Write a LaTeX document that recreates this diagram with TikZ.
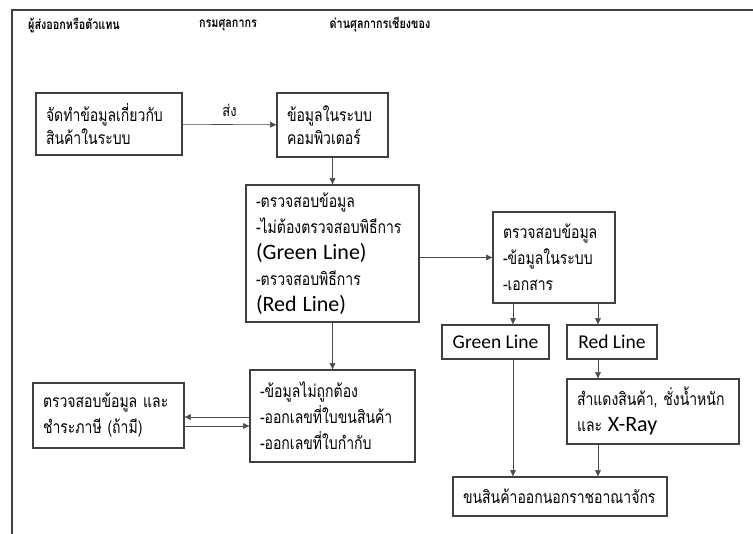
\documentclass[tikz,border=0pt]{standalone}
\usepackage{fontspec}
\setmainfont{Carlito}
\newfontfamily\thaifont[Script=Thai,FakeStretch=0.8]{Loma}
\usetikzlibrary{arrows.meta,positioning,calc}
\exhyphenpenalty=10000
\hbadness=10000
\hfuzz=40pt
\newcommand{\eng}[1]{{\normalfont\fontsize{22}{22}\selectfont #1}}
\tikzset{
  stepbox/.style={rectangle, draw=black!75, line width=1.3pt, align=left,
    inner xsep=10pt, inner ysep=0pt, font=\thaifont\fontsize{17.5}{26}\selectfont},
  tagbox/.style={stepbox, align=center, inner xsep=0pt,
    font=\normalfont\fontsize{19.5}{20}\selectfont},
  lane/.style={font=\thaifont\bfseries\fontsize{13.5}{16}\selectfont},
  flow/.style={-{Triangle[length=2.2mm,width=2mm]}, line width=0.6pt, draw=black!70},
}
\begin{document}
\begin{tikzpicture}[x=1pt, y=-1pt]
  \useasboundingbox (0,0) rectangle (753,534);
  % frame and lanes
  \draw[line width=1.4pt, draw=black!75] (753,10) -- (12,10) -- (12,534);
  \node[lane] (h1) at (74,25) {ผู้ส่งออกหรือตัวแทน};
  \node[lane] (h2) at (228,25) {กรมศุลกากร};
  \node[lane] (h3) at (380,25) {ด่านศุลกากรเชียงของ};
  % exporter and customs department
  \node[stepbox, text width=126pt, minimum height=62pt] (prep) at (109,124)
    {จัดทำข้อมูลเกี่ยวกับ\\[-3pt]สินค้าในระบบ};
  \node[stepbox, text width=91pt, minimum height=64pt] (comp) at (332.5,125)
    {ข้อมูลในระบบ\\[-3pt]คอมพิวเตอร์};
  \node[stepbox, text width=153pt, minimum height=137pt] (chk) at (332.5,253.5)
    {-ตรวจสอบข้อมูล\\-ไม่ต้องตรวจสอบพิธีการ\\\eng{(Green~Line)}\\-ตรวจสอบพิธีการ\\\eng{(Red~Line)}};
  \node[stepbox, text width=145pt, minimum height=92pt] (err) at (332.5,416)
    {-ข้อมูลไม่ถูกต้อง\\-ออกเลขที่ใบขนสินค้า\\-ออกเลขที่ใบกำกับ};
  \node[stepbox, text width=131pt, minimum height=65pt] (tax) at (108.5,415.5)
    {ตรวจสอบข้อมูล~และ\\ชำระภาษี~(ถ้ามี)};
  % border checkpoint
  \node[stepbox, text width=102pt, minimum height=91pt] (bchk) at (554,257.5)
    {ตรวจสอบข้อมูล\\-ข้อมูลในระบบ\\-เอกสาร};
  \node[tagbox, minimum width=107pt, minimum height=34pt] (green) at (495.5,342) {Green Line};
  \node[tagbox, minimum width=90pt, minimum height=34pt] (red) at (612,342) {Red Line};
  \node[stepbox, text width=152pt, minimum height=65pt] (xray) at (653,411.5)
    {สำแดงสินค้า,~ชั่งน้ำหนัก\\และ~\eng{X-Ray}};
  \node[stepbox, text width=194pt, minimum height=39pt] (out) at (560,496.5)
    {ขนสินค้าออกนอกราชอาณาจักร};
  \coordinate (gx) at (513,0);
  \coordinate (rx) at (598,0);
  % connectors
  \draw[flow] (prep) -- node[above=4pt, font=\thaifont\fontsize{16}{18}\selectfont] (send) {ส่ง} (comp);
  \draw[flow] (comp) -- (chk);
  \draw[flow] (chk.east |- bchk.west) -- (bchk.west);
  \draw[flow] (chk) -- (err);
  \draw[flow] (err.west |- 0,417) -- (tax.east |- 0,417);
  \draw[flow] (tax.east |- 0,426) -- (err.west |- 0,426);
  \draw[flow] (bchk.south -| gx) -- (green.north -| gx);
  \draw[flow] (bchk.south -| rx) -- (red.north -| rx);
  \draw[flow] (red.south -| rx) -- (xray.north -| rx);
  \draw[flow] (green.south -| gx) -- (out.north -| gx);
  \draw[flow] (xray.south -| rx) -- (out.north -| rx);
\end{tikzpicture}
\end{document}
